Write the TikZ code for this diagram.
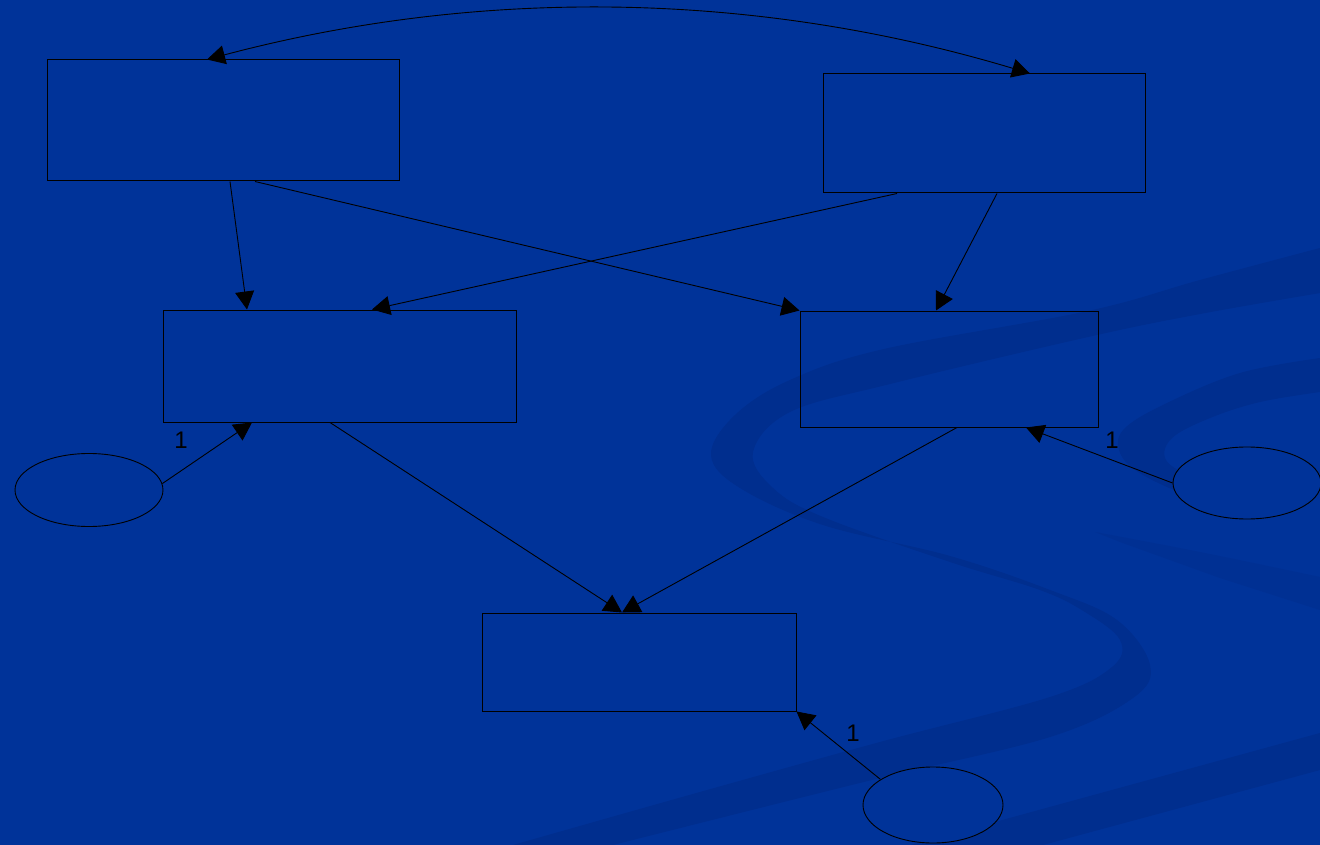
\documentclass[tikz,border=0pt]{standalone}
\usepackage{fontspec}
\setmainfont{Liberation Sans}
\usetikzlibrary{arrows.meta,calc,shapes.geometric}
\definecolor{slidebg}{RGB}{0,51,153}
\definecolor{swoosh}{RGB}{0,46,142}
\begin{document}
\begin{tikzpicture}[x=1pt,y=-1pt,
  box/.style={draw=black, line width=1pt, rectangle, inner sep=0pt},
  oval/.style={draw=black, line width=0.9pt, ellipse, inner sep=0pt, fill=slidebg},
  tipshape/.tip={Triangle[length=18pt,width=19pt]},
  link/.style={draw=black, line width=0.9pt, -tipshape},
  lbl/.style={font=\fontsize{24}{28}\selectfont, text=black, inner sep=0pt}]
% slide background
\fill[slidebg] (0,0) rectangle (1320,845);
\useasboundingbox (0,0) rectangle (1320,845);

% decorative S-shaped swoosh
\fill[swoosh] plot[smooth,tension=0.6] coordinates {
  (1320,248) (1200,280) (1088,311) (884,349) (790,380) (735,415) (711,455)
  (740,488) (823,525) (950,556) (1050,590) (1117,620) (1150,665) (1133,698)
  (1050,737) (880,778) (720,818) (613,845)}
  -- plot[smooth,tension=0.6] coordinates {
  (513,845) (700,792) (880,742) (1050,697) (1112,667) (1120,640) (1085,612)
  (1040,590) (950,562) (823,517) (773,488) (753,452) (790,412) (890,384)
  (1088,337) (1200,314) (1320,293)} -- cycle;
% small loop on the right, its lower arm ending behind the oval
\fill[swoosh] plot[smooth,tension=0.6] coordinates {
  (1320,358) (1240,373) (1167,403) (1125,428) (1119,450) (1138,472)
  (1190,496) (1245,508)}
  -- plot[smooth,tension=0.6] coordinates {
  (1245,492) (1195,478) (1166,460) (1172,438) (1210,418) (1260,402) (1320,392)}
  -- cycle;
% faint streak under the loop
\fill[swoosh!55!slidebg] plot[smooth,tension=0.6] coordinates {
  (1095,532) (1200,552) (1320,577)} -- (1320,610)
  -- plot[smooth,tension=0.6] coordinates {(1220,578) (1120,542)} -- cycle;
% lower band
\fill[swoosh] (1320,733) -- (1320,770) -- (1043,845) -- (911,845) -- cycle;

% boxes
\node[box, minimum width=352pt, minimum height=121pt] (A) at (223,120.5) {};
\node[box, minimum width=322pt, minimum height=119pt] (B) at (984,133.5) {};
\node[box, minimum width=353pt, minimum height=112pt] (C) at (339.5,366) {};
\node[box, minimum width=298pt, minimum height=116pt] (D) at (949,369) {};
\node[box, minimum width=314pt, minimum height=98pt]  (E) at (639,662) {};

% ovals
\node[oval, minimum width=148pt, minimum height=73pt] (L) at (89,490) {};
\node[oval, minimum width=148pt, minimum height=72pt] (R) at (1247,483) {};
\node[oval, minimum width=140pt, minimum height=76pt] (Bot) at (933,805) {};

% curved two-way link between the top boxes
\coordinate (arcA) at ([xshift=-16pt]A.north);
\coordinate (arcB) at ([xshift=46pt]B.north);
\draw[link, tipshape-tipshape] (arcA) .. controls ($(arcA)+(275,-73)$) and ($(arcB)+(-273,-82)$) .. (arcB);

% links between boxes
\draw[link] ([xshift=7pt]A.south) -- ([xshift=-92.5pt]C.north);
\draw[link] ([xshift=32pt]A.south) -- (D.north west);
\draw[link] ([xshift=-87pt]B.south) -- ([xshift=32.5pt]C.north);
\draw[link] ([xshift=13pt]B.south) -- ([xshift=-13pt]D.north);
\draw[link] ([xshift=-9.5pt]C.south) -- ([xshift=-17pt]E.north);
\draw[link] ([xshift=8pt]D.south) -- ([xshift=-17pt]E.north);

% links from the ovals
\draw[link] (L.5) -- ([xshift=-87.5pt]C.south);
\draw[link] (R.west) -- ([xshift=77pt]D.south);
\draw[link] (Bot.154) -- (E.south east);

% labels
\node[lbl] (n1) at (181,440) {1};
\node[lbl] (n2) at (1112,440) {1};
\node[lbl] (n3) at (853,733) {1};
\end{tikzpicture}
\end{document}
